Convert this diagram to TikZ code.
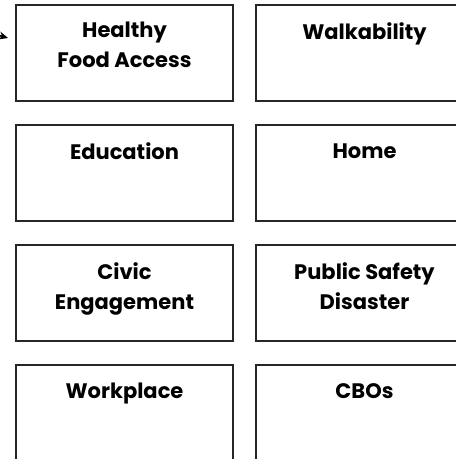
\documentclass[tikz,border=0pt]{standalone}
\usepackage{fontspec}
\setmainfont{Poppins}
\usetikzlibrary{arrows.meta}
\tikzset{
  box/.style={draw=black!85, line width=1.6pt, rectangle, minimum width=217pt, minimum height=96pt, inner sep=0pt},
  boxlabel/.style={anchor=north, align=center, inner sep=0pt, font=\fontsize{21}{30}\selectfont\bfseries, execute at begin node=\rule{0pt}{16pt}},
}
\begin{document}
\begin{tikzpicture}[x=1pt,y=-1pt]
\path[use as bounding box, clip] (0,0) rectangle (456,459);
\node[box] (b1) at (124.5,53) {};
\node[box] (b2) at (364.5,53) {};
\node[box] (b3) at (124.5,173) {};
\node[box] (b4) at (364.5,173) {};
\node[box] (b5) at (124.5,293) {};
\node[box] (b6) at (364.5,293) {};
\node[box] (b7) at (124.5,413) {};
\node[box] (b8) at (364.5,413) {};
\node[boxlabel] (t1) at ([yshift=-18pt]b1.north) {Healthy\\Food Access};
\node[boxlabel] (t2) at ([yshift=-18pt]b2.north) {Walkability};
\node[boxlabel] (t3) at ([yshift=-18pt]b3.north) {Education};
\node[boxlabel] (t4) at ([yshift=-18pt]b4.north) {Home};
\node[boxlabel] (t5) at ([yshift=-18pt]b5.north) {Civic\\Engagement};
\node[boxlabel] (t6) at ([yshift=-18pt]b6.north) {Public Safety\\Disaster};
\node[boxlabel] (t7) at ([yshift=-18pt]b7.north) {Workplace};
\node[boxlabel] (t8) at ([yshift=-18pt]b8.north) {CBOs};
\coordinate (as) at (-20,30);
\coordinate (ae) at (8,38);
\draw[line width=1.6pt, -{Stealth[length=9pt,width=8pt]}] (as) -- (ae);
\end{tikzpicture}
\end{document}
